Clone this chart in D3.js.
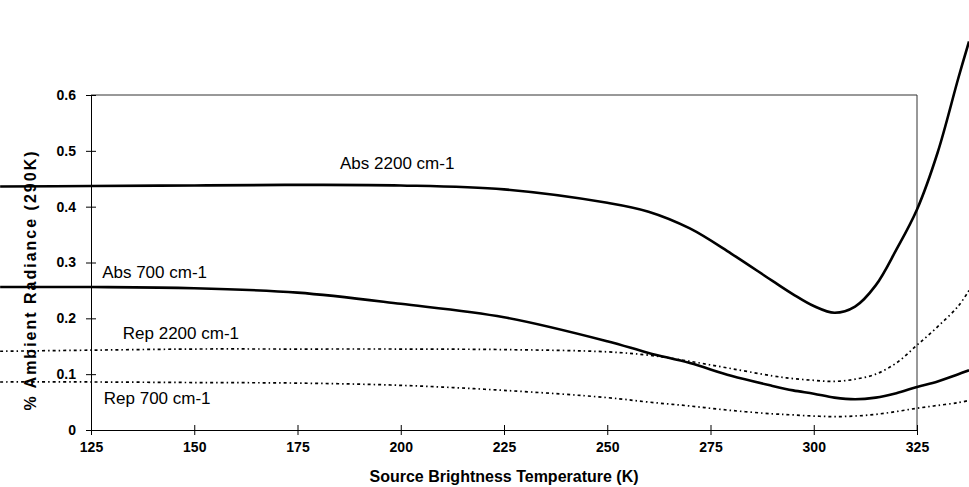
<!DOCTYPE html>
<html>
<head>
<meta charset="utf-8">
<script src="https://cdn.jsdelivr.net/npm/d3@7"></script>
<style>
    html, body { margin: 0; padding: 0; background: #fff; }
    svg { display: block; font-family: "Liberation Sans", Arial, sans-serif; }
    .tick text { font-weight: bold; font-size: 14px; fill: #000; }
    .series-label { font-size: 17px; fill: #000; }
    .axis-title { font-weight: bold; fill: #000; }
</style>
</head>
<body>
<div id="chart"></div>
<script>
// Source temperatures (K), readings run past both ends of the axis
const temps = [103, 125, 150, 175, 200, 225, 250, 260, 270, 280, 290, 295, 300, 305, 310, 315, 320, 325, 330, 335, 337.6];

const abs2200 = [0.436, 0.437, 0.438, 0.439, 0.438, 0.431, 0.407, 0.391, 0.361, 0.316, 0.267, 0.243, 0.222, 0.210, 0.221, 0.259, 0.323, 0.395, 0.497, 0.630, 0.696];
const abs700  = [0.256, 0.256, 0.254, 0.246, 0.226, 0.202, 0.159, 0.138, 0.120, 0.097, 0.079, 0.071, 0.065, 0.058, 0.055, 0.058, 0.066, 0.077, 0.087, 0.100, 0.107];
const rep2200 = [0.141, 0.143, 0.145, 0.145, 0.145, 0.144, 0.140, 0.134, 0.123, 0.110, 0.097, 0.092, 0.089, 0.087, 0.091, 0.100, 0.120, 0.152, 0.185, 0.222, 0.250];
const rep700  = [0.086, 0.086, 0.085, 0.084, 0.080, 0.071, 0.058, 0.050, 0.043, 0.035, 0.029, 0.027, 0.025, 0.024, 0.025, 0.028, 0.033, 0.039, 0.044, 0.049, 0.053];

const xTicks = [125, 150, 175, 200, 225, 250, 275, 300, 325];
const yTicks = [0, 0.1, 0.2, 0.3, 0.4, 0.5, 0.6];

const seriesList = [
    { name: 'Abs 2200 cm-1', values: abs2200, dashed: false, labelAt: [185.3, 0.468] },
    { name: 'Abs 700 cm-1',  values: abs700,  dashed: false, labelAt: [127.7, 0.273] },
    { name: 'Rep 2200 cm-1', values: rep2200, dashed: true,  labelAt: [132.7, 0.163] },
    { name: 'Rep 700 cm-1',  values: rep700,  dashed: true,  labelAt: [128.1, 0.046] }
];

const width = 969, height = 487;
const plot = { left: 91, right: 917, top: 95, bottom: 430 };

const svg = d3.select('#chart')
    .append('svg')
    .attr('width', width)
    .attr('height', height);

const x = d3.scaleLinear().domain([125, 325]).range([plot.left, plot.right]);
const y = d3.scaleLinear().domain([0, 0.6]).range([plot.bottom, plot.top]);

// frame on top and right side
svg.append('path')
    .attr('d', `M${plot.left},${plot.top}H${plot.right}V${plot.bottom}`)
    .attr('fill', 'none')
    .attr('stroke', '#333')
    .attr('stroke-width', 1);

// axes, ticks crossing the line
const yAxis = svg.append('g')
    .attr('transform', `translate(${plot.left},0)`)
    .call(d3.axisLeft(y).tickValues(yTicks).tickSizeInner(5).tickSizeOuter(0).tickPadding(10)
        .tickFormat(d => d === 0 ? '0' : d3.format('.1f')(d)));
yAxis.selectAll('.tick line').attr('x1', 5);

const xAxis = svg.append('g')
    .attr('transform', `translate(0,${plot.bottom})`)
    .call(d3.axisBottom(x).tickValues(xTicks).tickSizeInner(5).tickSizeOuter(0).tickPadding(7));
xAxis.selectAll('.tick line').attr('y1', -5);

svg.selectAll('.domain').attr('stroke', '#000');
svg.selectAll('.tick line').attr('stroke', '#000');

const line = d3.line()
    .x((d, i) => x(temps[i]))
    .y(d => y(d))
    .curve(d3.curveCatmullRom.alpha(0.5));

svg.append('g')
    .selectAll('path')
    .data(seriesList)
    .enter().append('path')
    .attr('fill', 'none')
    .attr('stroke', '#000')
    .attr('stroke-width', d => d.dashed ? 1.7 : 2.6)
    .attr('stroke-dasharray', d => d.dashed ? '3,3,1.5,3' : null)
    .attr('d', d => line(d.values));

svg.append('g')
    .selectAll('text')
    .data(seriesList)
    .enter().append('text')
    .attr('class', 'series-label')
    .attr('x', d => x(d.labelAt[0]))
    .attr('y', d => y(d.labelAt[1]))
    .text(d => d.name);

svg.append('text')
    .attr('class', 'axis-title')
    .attr('x', (plot.left + plot.right) / 2)
    .attr('y', 482)
    .attr('text-anchor', 'middle')
    .style('font-size', '16px')
    .text('Source Brightness Temperature (K)');

svg.append('text')
    .attr('class', 'axis-title')
    .attr('transform', 'translate(36,280) rotate(-90)')
    .attr('text-anchor', 'middle')
    .style('font-size', '16px')
    .style('letter-spacing', '2px')
    .text('% Ambient Radiance (290K)');
</script>
</body>
</html>
